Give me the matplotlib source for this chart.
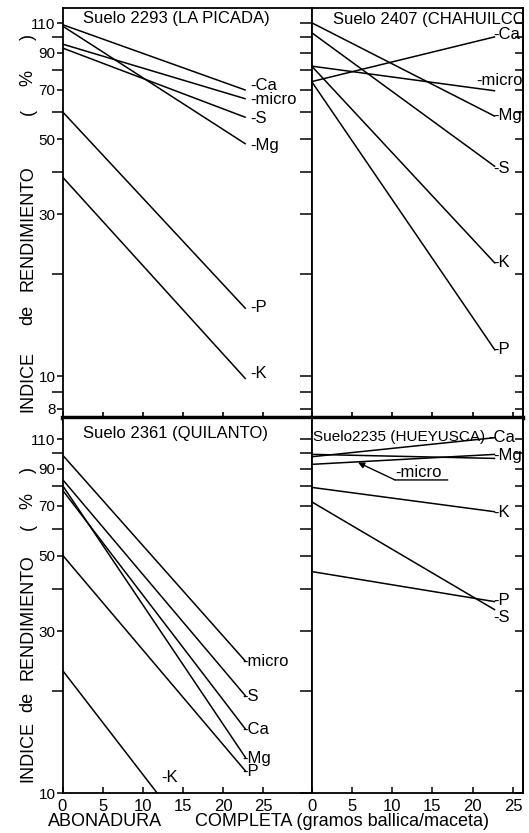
import numpy as np
import matplotlib
matplotlib.use("Agg")
import matplotlib.pyplot as plt
from matplotlib.ticker import FixedLocator, NullFormatter, FixedFormatter

# ---------------- data ----------------
x_dose = [0, 22.8]          # abonadura completa (g ballica/maceta): start and end of each line

# Suelo 2293 (LA PICADA)
a_elem = ["Ca", "micro", "S", "Mg", "P", "K"]
a_start = [109, 95.5, 93, 108, 60.3, 38.7]
a_end = [69.8, 65.8, 58.0, 48.4, 15.8, 9.8]

# Suelo 2407 (CHAHUILCO)
b_elem = ["Ca", "micro", "Mg", "S", "K", "P"]
b_start = [74.0, 82.2, 110.4, 103.2, 82.2, 74.0]
b_end = [100.4, 69.5, 58.4, 41.5, 21.5, 11.9]

# Suelo 2361 (QUILANTO)
c_elem = ["micro", "S", "Ca", "Mg", "P", "K"]
c_start = [98.9, 83.8, 78.0, 80.5, 50.2, 23.0]
c_end = [24.4, 19.3, 15.4, 12.7, 11.6, 4.6]

# Suelo 2235 (HUEYUSCA)
d_elem = ["Ca", "Mg", "micro", "K", "P", "S"]
d_start = [97.7, 99.3, 92.8, 79.4, 44.9, 72.0]
d_end = [111.2, 96.6, 99.3, 67.3, 36.6, 34.6]

titles = ["Suelo 2293 (LA PICADA)", "Suelo 2407 (CHAHUILCO)",
          "Suelo 2361 (QUILANTO)", "Suelo2235 (HUEYUSCA)"]

x_ticks = [0, 5, 10, 15, 20, 25]
y_major_top = [8, 10, 30, 50, 70, 90, 110]
y_minor_top = [9, 20, 40, 60, 80, 100]
y_major_bot = [10, 30, 50, 70, 90, 110]
y_minor_bot = [20, 40, 60, 80, 100]

# ---------------- layout (label positions) ----------------
a_lab_y = [72.3, 65.4, 57.7, 48.0, 15.9, 10.2]
b_lab_y = [101.6, 74.6, 58.9, 41.1, 21.7, 12.0]
b_lab_x = [22.6, 20.5, 22.6, 22.6, 22.6, 22.6]
c_lab_y = [24.4, 19.3, 15.4, 12.7, 11.6, 11.1]
c_lab_x = [22.4, 22.4, 22.4, 22.4, 22.4, 12.25]
d_lab_y = [111.2, 98.5, None, 66.8, 37.0, 32.8]
d_lab_x = [21.9, 22.6, None, 22.6, 22.6, 22.6]

plt.rcParams["font.family"] = ["Liberation Sans", "DejaVu Sans"]

W, H = 529, 833
fig = plt.figure(figsize=(W / 100, H / 100), dpi=100)
fig.patch.set_facecolor("white")


def rect(x0, x1, ytop, ybot):
    return [x0 / W, 1 - ybot / H, (x1 - x0) / W, (ybot - ytop) / H]


L0, MID, R1 = 62.5, 311.7, 523.0
TOP, SEP, BOT = 8.3, 417.8, 793.3

axTL = fig.add_axes(rect(L0, MID, TOP, SEP))
axTR = fig.add_axes(rect(MID, R1, TOP, SEP))
axBL = fig.add_axes(rect(L0, MID, SEP, BOT))
axBR = fig.add_axes(rect(MID, R1, SEP, BOT))

ylim_top = (7.53, 121.8)
ylim_bot = (10, 127.2)
xlim_left = (0, 31.0)
xlim_right = (0, 26.25)

LW = 1.1
panels = [
    (axTL, a_elem, a_start, a_end, ylim_top, xlim_left, True, True),
    (axTR, b_elem, b_start, b_end, ylim_top, xlim_right, True, False),
    (axBL, c_elem, c_start, c_end, ylim_bot, xlim_left, False, True),
    (axBR, d_elem, d_start, d_end, ylim_bot, xlim_right, False, False),
]

for i, (ax, elem, st, en, ylim, xlim, is_top, is_left) in enumerate(panels):
    ax.set_yscale("log")
    for s, e in zip(st, en):
        ax.plot(x_dose, [s, e], color="black", lw=LW, solid_capstyle="butt")
    ax.set_ylim(*ylim)
    ax.set_xlim(*xlim)
    for sp in ax.spines.values():
        sp.set_linewidth(1.3)
    major = y_major_top if is_top else y_major_bot
    minor = y_minor_top if is_top else y_minor_bot
    ax.xaxis.set_major_locator(FixedLocator(x_ticks))
    if is_top:
        ax.spines["bottom"].set_linewidth(3.2)
        ax.tick_params(axis="x", direction="inout", length=8, width=1.2,
                       labelbottom=False)
    else:
        ax.spines["top"].set_linewidth(1.0)
        ax.xaxis.set_major_formatter(FixedFormatter([str(t) for t in x_ticks]))
        ax.tick_params(axis="x", direction="in", length=4, width=1.1,
                       labelsize=12, pad=4)
    if is_left:
        ax.yaxis.set_major_locator(FixedLocator(major))
        ax.yaxis.set_major_formatter(FixedFormatter([str(t) for t in major]))
        ax.yaxis.set_minor_locator(FixedLocator(minor))
        ax.yaxis.set_minor_formatter(NullFormatter())
        ax.tick_params(axis="y", which="major", direction="out", length=4,
                       width=1.1, pad=1, labelsize=11)
        ax.tick_params(axis="y", which="minor", direction="out", length=8,
                       width=1.1)
    else:
        allt = sorted(major + minor)
        ax.yaxis.set_major_locator(FixedLocator(allt))
        ax.yaxis.set_major_formatter(NullFormatter())
        ax.yaxis.set_minor_locator(FixedLocator([]))
        ax.tick_params(axis="y", which="major", direction="out", length=9,
                       width=1.1)
        sec = ax.secondary_yaxis("right")
        sec.yaxis.set_major_locator(FixedLocator(allt))
        sec.yaxis.set_major_formatter(NullFormatter())
        sec.yaxis.set_minor_locator(FixedLocator([]))
        sec.tick_params(axis="y", which="both", direction="in", length=6,
                        width=1.1)
        sec.spines["right"].set_linewidth(1.3)

# titles
title_pos = [(0.082, 0.975), (0.10, 0.972), (0.084, 0.957), (0.008, 0.949)]
title_fs = [12, 12, 12, 11]
for ax, t, (tx, ty), tfs in zip([axTL, axTR, axBL, axBR], titles, title_pos, title_fs):
    ax.text(tx, ty, t, transform=ax.transAxes, ha="left", va="center",
            fontsize=tfs, clip_on=True)

FS = 12
for el, y in zip(a_elem, a_lab_y):
    axTL.text(23.3, y, "-" + el, ha="left", va="center", fontsize=FS)
for el, y, x in zip(b_elem, b_lab_y, b_lab_x):
    axTR.text(x, y, "-" + el, ha="left", va="center", fontsize=FS, clip_on=True)
for el, y, x in zip(c_elem, c_lab_y, c_lab_x):
    axBL.text(x, y, "-" + el, ha="left", va="center", fontsize=FS)
for el, y, x in zip(d_elem, d_lab_y, d_lab_x):
    if y is None:
        continue
    axBR.text(x, y, "-" + el, ha="left", va="center", fontsize=FS, clip_on=True)

# micro annotation (Suelo 2235)
mi = d_elem.index("micro")
tip_x = 5.6
tip_y = 10 ** np.interp(tip_x, x_dose, np.log10([d_start[mi], d_end[mi]]))
ul_y = 83.5
axBR.annotate("", xy=(tip_x, tip_y), xytext=(10.35, ul_y),
              arrowprops=dict(arrowstyle="-|>", color="black", lw=1.0,
                              mutation_scale=9, shrinkA=0, shrinkB=1))
axBR.annotate("", xy=(16.9, ul_y), xytext=(10.35, ul_y),
              arrowprops=dict(arrowstyle="-", color="black", lw=1.0,
                              shrinkA=0, shrinkB=0))
axBR.text(10.35, 87.6, "-micro", ha="left", va="center", fontsize=FS)

# y-axis label pieces
YL_X = 28 / W
for s, yc in [(")", 37), ("%", 78), ("(", 112), ("RENDIMIENTO", 228),
              ("de", 315), ("INDICE", 381)]:
    fig.text(YL_X, 1 - yc / H, s, rotation=90, ha="center", va="center",
             fontsize=13)
for s, yc in [(")", 470), ("%", 501), ("(", 527), ("RENDIMIENTO", 617),
              ("de", 702), ("INDICE", 752)]:
    fig.text(YL_X, 1 - yc / H, s, rotation=90, ha="center", va="center",
             fontsize=13)

# x-axis label
fig.text(105 / W, 1 - 822 / H, "ABONADURA", ha="center", va="center",
         fontsize=13)
fig.text(195 / W, 1 - 822 / H, "COMPLETA (gramos ballica/maceta)",
         ha="left", va="center", fontsize=13)

fig.savefig("out.png", dpi=100, facecolor="white")
